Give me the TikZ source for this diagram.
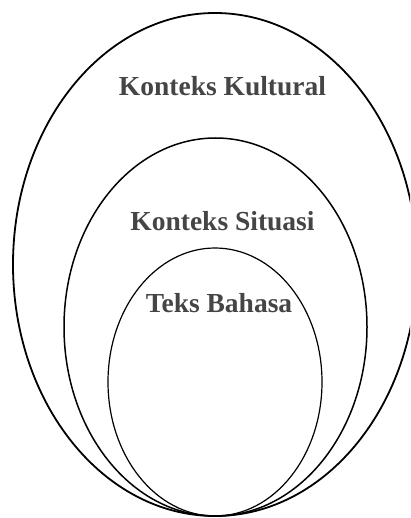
\documentclass[tikz,border=0pt]{standalone}
\usepackage{fontspec}
\setmainfont{Liberation Serif}
\usetikzlibrary{shapes.geometric}
\definecolor{labelgrey}{HTML}{454545}
\tikzset{
  ring/.style={ellipse, draw=black, inner sep=0pt, outer sep=0pt},
  lbl/.style={font=\fontsize{27.5}{30}\selectfont\bfseries, text=labelgrey, anchor=base, inner sep=0pt}
}
\begin{document}
\begin{tikzpicture}[x=1pt,y=-1pt]
\useasboundingbox (0,0) rectangle (410,518);
\clip (0,0) rectangle (410,518);
\node[ring, line width=1.8pt, minimum width=404pt, minimum height=503pt] (outer) at (215,264.5) {};
\node[ring, line width=1.5pt, minimum width=303pt, minimum height=378pt] (middle) at (215.5,327) {};
\node[ring, line width=1.2pt, minimum width=214pt, minimum height=268pt] (inner) at (215,382) {};
\node[lbl] (kultural) at (222.5,96) {Konteks Kultural};
\node[lbl] (situasi) at (222.5,230) {Konteks Situasi};
\node[lbl] (bahasa) at (219,312) {Teks Bahasa};
\end{tikzpicture}
\end{document}
